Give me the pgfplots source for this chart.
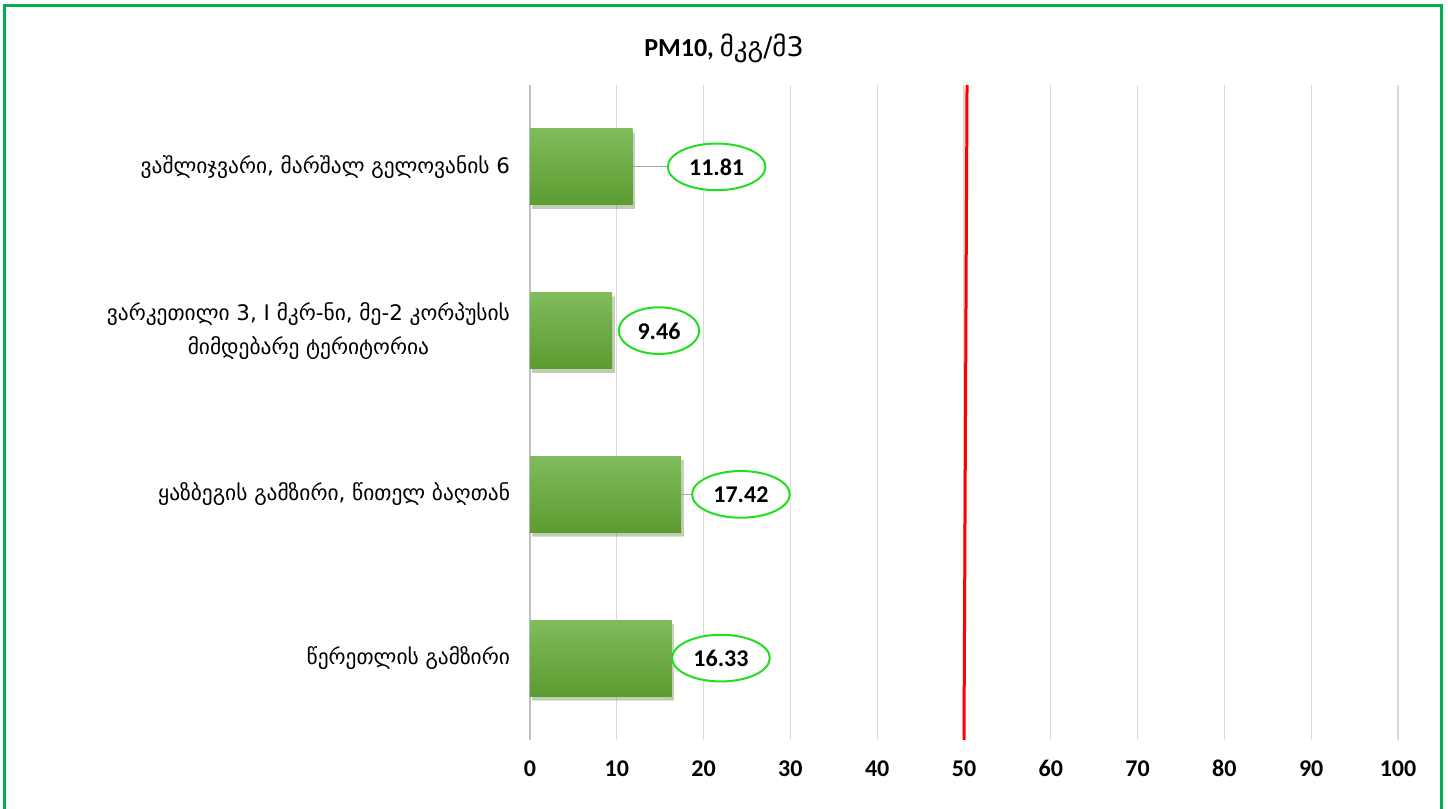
\documentclass[border=0pt]{standalone}
\usepackage{pgfplots}
\pgfplotsset{compat=1.18}
\usepackage{pgfplotstable}
\usepackage{fontspec}
\setmainfont{Carlito}
\newfontfamily\geo{DejaVu Sans}
\usetikzlibrary{shapes.geometric,shadows}
\definecolor{bordergreen}{HTML}{00B050}
\definecolor{bartop}{HTML}{80BC5C}
\definecolor{barbot}{HTML}{5C9B30}
\definecolor{lblgreen}{HTML}{22DD22}
\definecolor{gridgray}{HTML}{D9D9D9}
\definecolor{leadgray}{HTML}{A6A6A6}

\pgfplotstableread{
y val labx
0 16.33 22.0
1 17.42 24.3
2 9.46 14.86
3 11.81 21.5
}\datatable

\begin{document}
\begin{tikzpicture}[x=1pt,y=1pt]
\path[use as bounding box] (0,0) rectangle (724,404.5);
\draw[bordergreen, line width=1.5pt] (2,-3) -- (2,401.5) -- (720.5,401.5) -- (720.5,-3);
\node[font=\fontsize{13}{15}\selectfont] at (362,380.5) {\textbf{PM10,} {\geo\fontsize{13.5}{15}\selectfont მკგ/მ3}};
\begin{axis}[
  at={(265pt,34.5pt)}, anchor=south west,
  scale only axis, width=434pt, height=327.5pt,
  xmin=0, xmax=100, ymin=-0.5, ymax=3.5,
  xtick={0,10,...,100},
  ytick={0,1,2,3},
  yticklabels={{\geo წერეთლის გამზირი},{\geo ყაზბეგის გამზირი, წითელ ბაღთან},{\geo ვარკეთილი 3, I მკრ-ნი, მე-2 კორპუსის\\\geo მიმდებარე ტერიტორია},{\geo ვაშლიჯვარი, მარშალ გელოვანის 6}},
  yticklabel style={align=center, font=\fontsize{10.7}{17}\selectfont, xshift=-6.5pt},
  xticklabel style={font=\bfseries\fontsize{12}{14}\selectfont, text height=8.6pt, text depth=0pt, yshift=-6pt},
  /pgf/number format/assume math mode=true,
  axis line style={draw=none},
  tick style={draw=none},
  xmajorgrids, major grid style={gridgray, line width=0.6pt},
  extra x ticks={0}, extra x tick labels={},
  extra x tick style={major grid style={gray!50, line width=0.6pt}},
  clip=false,
  barstyle/.style={xbar, bar width=38pt, draw=none, top color=bartop, bottom color=barbot,
    drop shadow={shadow xshift=1.2pt, shadow yshift=-2pt, opacity=0.25}},
]
\addplot[barstyle] coordinates {(16.33,0)};
\addplot[barstyle] coordinates {(17.42,1)};
\addplot[barstyle] coordinates {(9.46,2)};
\addplot[barstyle] coordinates {(11.81,3)};
\addplot[red, line width=1.5pt] coordinates {(50,-0.5) (50.35,3.5)};
\addplot[leadgray, line width=0.6pt] coordinates {(11.81,3) (16.13,3)};
\addplot[leadgray, line width=0.6pt] coordinates {(17.42,1) (19.0,1)};
\addplot[draw=none, mark=none, nodes near coords, point meta=explicit symbolic,
  nodes near coords align={center},
  every node near coord/.style={ellipse, draw=lblgreen, line width=1pt, fill=white,
    anchor=center, font=\bfseries\fontsize{12}{14}\selectfont,
    inner xsep=3.5pt, inner ysep=4pt, text height=8.5pt, text depth=0pt}]
  table[x=labx, y=y, meta=val] {\datatable};
\end{axis}
\end{tikzpicture}
\end{document}
